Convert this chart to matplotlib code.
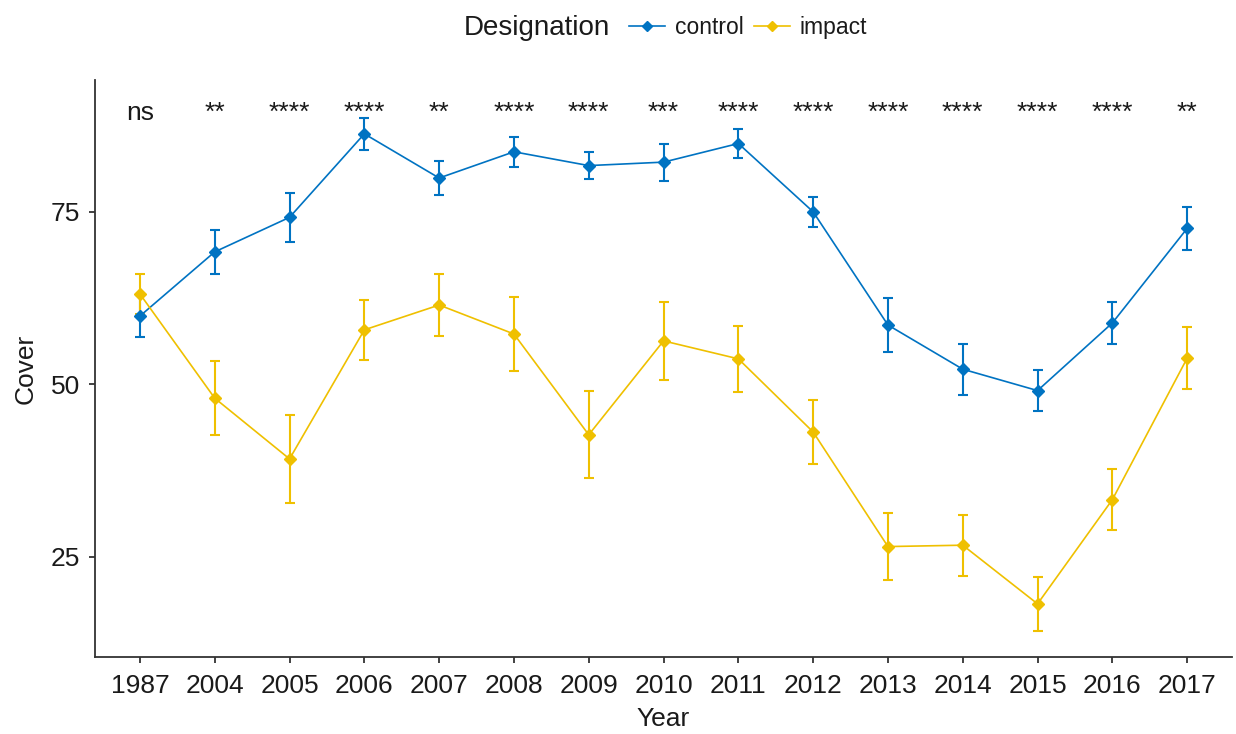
import numpy as np
import matplotlib
matplotlib.use("Agg")
import matplotlib.pyplot as plt
from matplotlib.lines import Line2D

# Mean cover per year with standard error, by designation
years = ["1987", "2004", "2005", "2006", "2007", "2008", "2009", "2010",
         "2011", "2012", "2013", "2014", "2015", "2016", "2017"]
control_mean = [59.9, 69.2, 74.2, 86.3, 79.9, 83.7, 81.7, 82.2,
                84.9, 75.0, 58.6, 52.2, 49.1, 58.9, 72.6]
control_se = [3.0, 3.2, 3.5, 2.3, 2.4, 2.2, 1.9, 2.7,
              2.1, 2.2, 3.9, 3.7, 3.0, 3.0, 3.1]
impact_mean = [63.1, 48.0, 39.2, 57.9, 61.5, 57.3, 42.7, 56.3,
               53.7, 43.1, 26.5, 26.7, 18.2, 33.3, 53.8]
impact_se = [2.9, 5.4, 6.4, 4.3, 4.5, 5.3, 6.3, 5.7,
             4.8, 4.6, 4.9, 4.4, 3.9, 4.4, 4.5]
signif = ["ns", "**", "****", "****", "**", "****", "****", "***",
          "****", "****", "****", "****", "****", "****", "**"]
label_y = 88.3

plt.rcParams["font.family"] = ["Liberation Sans", "DejaVu Sans"]

blue = "#0073C2"
gold = "#EFC000"
dark = "#1a1a1a"

fig = plt.figure(figsize=(12.36, 7.34), dpi=100)
ax = fig.add_axes([0.0769, 0.1049, 0.9199, 0.7861])

x = np.arange(len(years))
for mean, se, col in [(control_mean, control_se, blue),
                      (impact_mean, impact_se, gold)]:
    ax.errorbar(x, mean, yerr=se, fmt="-D", color=col, ecolor=col,
                lw=1.2, elinewidth=1.5, capsize=3.5, capthick=1.5,
                markersize=6.3, zorder=3)

for i, s in enumerate(signif):
    ax.text(i, label_y, s, ha="center", va="baseline", fontsize=19,
            color=dark)

ax.set_xlim(-0.6, len(years) - 0.4)
ax.set_ylim(10.5, 94.1)
ax.set_xticks(x)
ax.set_xticklabels(years)
ax.set_yticks([25, 50, 75])

for side in ["top", "right"]:
    ax.spines[side].set_visible(False)
for side in ["left", "bottom"]:
    ax.spines[side].set_color("#333333")
    ax.spines[side].set_linewidth(1.3)
ax.tick_params(axis="both", labelsize=19, colors="#333333",
               labelcolor=dark, length=4.5, width=1.3)
ax.tick_params(axis="x", pad=8)
ax.tick_params(axis="y", pad=6)

ax.set_xlabel("Year", fontsize=19, color=dark, labelpad=6)
ax.set_ylabel("Cover", fontsize=19, color=dark, labelpad=10)

# legend across the top: title on the left, keys to the right
fig.text(0.375, 0.962, "Designation", fontsize=20, color=dark,
         ha="left", va="center")
handles = [Line2D([], [], color=blue, marker="D", markersize=5, lw=1.2),
           Line2D([], [], color=gold, marker="D", markersize=5, lw=1.2)]
fig.legend(handles, ["control", "impact"], loc="center left",
           bbox_to_anchor=(0.509, 0.962), ncol=2, frameon=False,
           fontsize=16.5, handlelength=1.55, handletextpad=0.45,
           columnspacing=0.45, borderpad=0, borderaxespad=0,
           labelcolor=dark)

fig.savefig("out.png", dpi=100)
